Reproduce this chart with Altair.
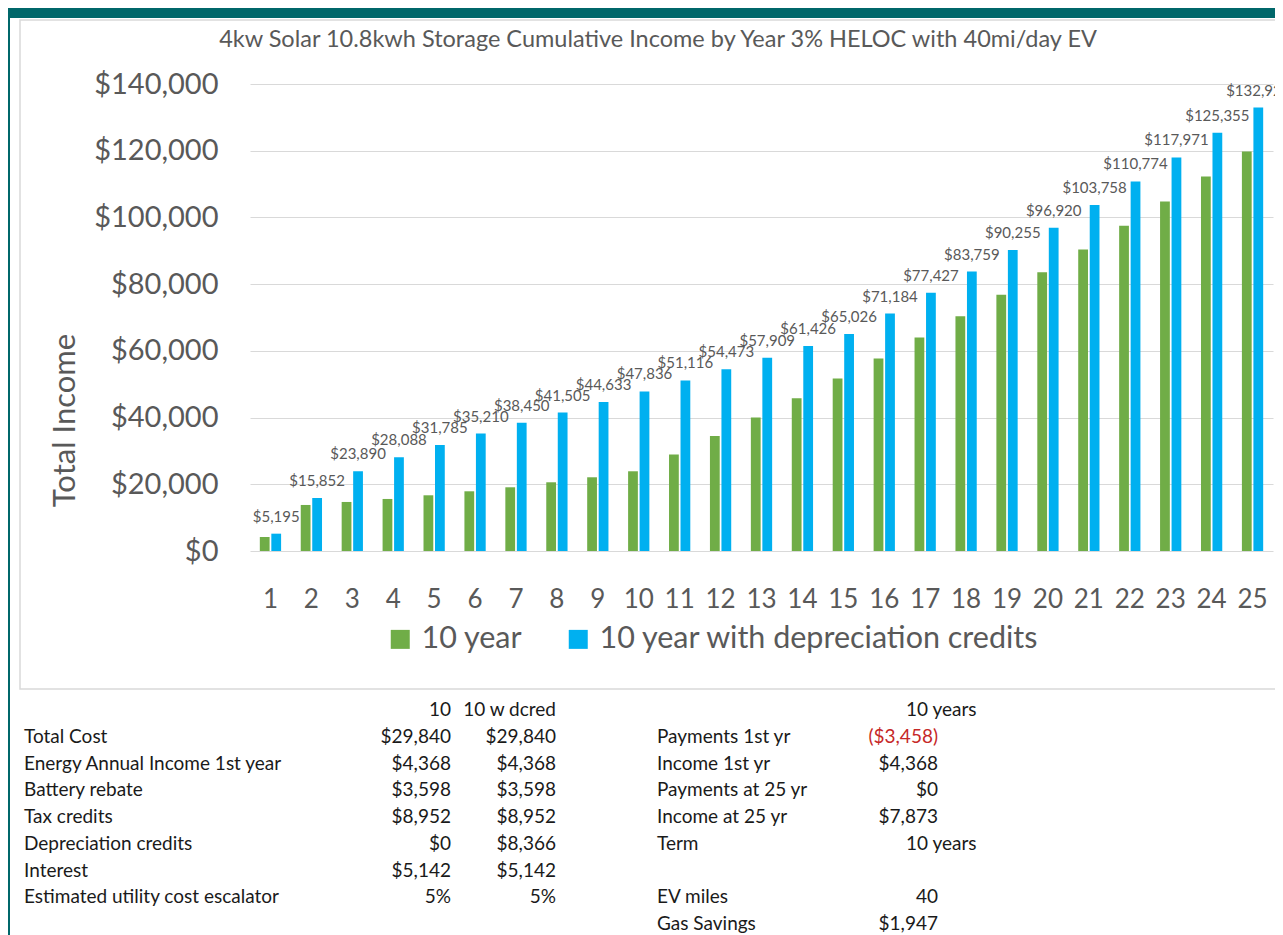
import altair as alt
import pandas as pd

# ---------------- data ----------------
years = list(range(1, 26))
ten_year = [4200, 13800, 14700, 15600, 16700, 17900, 19100, 20600, 22100, 23900,
            28900, 34500, 40000, 45800, 51700, 57700, 64000, 70400, 76800, 83600,
            90400, 97500, 104800, 112300, 119800]
ten_year_dep = [5195, 15852, 23890, 28088, 31785, 35210, 38450, 41505, 44633, 47836,
                51116, 54473, 57909, 61426, 65026, 71184, 77427, 83759, 90255, 96920,
                103758, 110774, 117971, 125355, 132929]
series_names = ["10 year", "10 year with depreciation credits"]
series_colors = ["#70ad47", "#00b0f0"]
y_ticks = [0, 20000, 40000, 60000, 80000, 100000, 120000, 140000]

title_text = "4kw Solar 10.8kwh Storage Cumulative Income by Year 3% HELOC with 40mi/day EV"
y_title = "Total Income"

left_headers = ["10", "10 w dcred"]
left_labels = ["Total Cost", "Energy Annual Income 1st year", "Battery rebate", "Tax credits",
               "Depreciation credits", "Interest", "Estimated utility cost escalator"]
left_col1 = ["$29,840", "$4,368", "$3,598", "$8,952", "$0", "$5,142", "5%"]
left_col2 = ["$29,840", "$4,368", "$3,598", "$8,952", "$8,366", "$5,142", "5%"]

right_header = "10 years"
right_labels = ["Payments 1st yr", "Income 1st yr", "Payments at 25 yr", "Income at 25 yr",
                "Term", "", "EV miles", "Gas Savings"]
right_values = ["($3,458)", "$4,368", "$0", "$7,873", "", "", "40", "$1,947"]
right_units = ["", "", "", "", "10 years", "", "", ""]

# ---------------- styling constants ----------------
FONT = "Lato"
GRAY = "#595959"
TEAL = "#00676a"
RED = "#c62828"
INK = "#1a1a1a"
W, H = 1023, 467
PAD = {"left": 242, "top": 76, "right": 2, "bottom": 384}

# ---------------- frames ----------------
df_bars = pd.DataFrame({
    "year": years * 2,
    "value": ten_year + ten_year_dep,
    "series": [series_names[0]] * len(years) + [series_names[1]] * len(years),
})
df_dep = pd.DataFrame({"year": years, "value": ten_year_dep, "series": series_names[1]})

x_enc = alt.X("year:O",
              scale=alt.Scale(paddingInner=0.48, paddingOuter=0.24),
              axis=alt.Axis(title=None, labelAngle=0, ticks=False, domain=False, grid=False,
                            labelFont=FONT, labelFontSize=26, labelColor=GRAY, labelPadding=35))
xo_enc = alt.XOffset("series:N", scale=alt.Scale(domain=series_names, paddingInner=0.15, paddingOuter=0))
y_enc = alt.Y("value:Q",
              scale=alt.Scale(domain=[0, 140000], nice=False, zero=True),
              axis=alt.Axis(values=y_ticks, format="$,.0f", ticks=False, domain=False,
                            grid=True, gridColor="#d9d9d9", gridWidth=1,
                            labelFont=FONT, labelFontSize=29, labelColor=GRAY, labelPadding=32,
                            title=y_title, titleFont=FONT, titleFontSize=31, titleFontWeight="normal",
                            titleColor=GRAY, titleX=-185, titleY=336, titleAngle=-90,
                            titleAlign="center", titleBaseline="middle"))

bars = alt.Chart(df_bars).mark_bar().encode(
    x=x_enc,
    xOffset=xo_enc,
    y=y_enc,
    color=alt.Color("series:N",
                    scale=alt.Scale(domain=series_names, range=series_colors),
                    legend=alt.Legend(title=None, orient="none", legendX=135, legendY=540,
                                      direction="horizontal", symbolType="square", symbolSize=361,
                                      symbolStrokeWidth=0, labelFont=FONT, labelFontSize=30.5,
                                      labelColor=GRAY, labelLimit=700, columnPadding=40,
                                      labelOffset=6, padding=0)),
)

labels = alt.Chart(df_dep).mark_text(font=FONT, fontSize=15, color=GRAY, baseline="middle", dy=-17).encode(
    x=x_enc,
    xOffset=xo_enc,
    y=y_enc,
    text=alt.Text("value:Q", format="$,.0f"),
)

chart_core = alt.layer(bars, labels)

# ---------------- decoration ----------------
one = pd.DataFrame({"a": [0]})
teal_top = alt.Chart(one).mark_rect(color=TEAL).encode(
    x=alt.value(-PAD["left"]), x2=alt.value(W + PAD["right"]), y=alt.value(-PAD["top"]), y2=alt.value(-66))
teal_left = alt.Chart(one).mark_rect(color=TEAL).encode(
    x=alt.value(-PAD["left"]), x2=alt.value(-PAD["left"] + 2), y=alt.value(-PAD["top"]), y2=alt.value(H + PAD["bottom"]))
box = alt.Chart(one).mark_rect(fillOpacity=0, stroke="#d9d9d9", strokeWidth=1.5).encode(
    x=alt.value(-230), x2=alt.value(W + 20), y=alt.value(-64), y2=alt.value(605))
title = alt.Chart(pd.DataFrame({"t": [title_text]})).mark_text(
    font=FONT, fontSize=23.5, color=GRAY, align="center", baseline="middle").encode(
    text="t:N", x=alt.value(408), y=alt.value(-44))

# ---------------- table ----------------
row_scale = alt.Scale(domain=[0, 8], range=[626, 840])
def row_y():
    return alt.Y("row:Q", scale=row_scale, axis=None)

TFS = 19

def text_layer(texts, rows, xpos, align, color=INK):
    df = pd.DataFrame({"row": rows, "txt": texts})
    df = df[df["txt"] != ""]
    return alt.Chart(df).mark_text(font=FONT, fontSize=TFS, color=color, align=align, baseline="middle").encode(
        x=alt.value(xpos), y=row_y(), text="txt:N")

rows_left = list(range(1, 1 + len(left_labels)))
rows_right = list(range(1, 1 + len(right_labels)))

t_left_lab = text_layer(left_labels, rows_left, 24 - 250, "left")
t_c1 = text_layer([left_headers[0]] + left_col1, [0] + rows_left, 451 - 250, "right")
t_c2 = text_layer([left_headers[1]] + left_col2, [0] + rows_left, 556 - 250, "right")
t_right_lab = text_layer(right_labels, rows_right, 657 - 250, "left")

df_rv = pd.DataFrame({"row": rows_right, "txt": right_values})
df_rv = df_rv[df_rv["txt"] != ""]
df_rv["neg"] = df_rv["txt"].str.startswith("(")
t_right_val = alt.Chart(df_rv).mark_text(font=FONT, fontSize=TFS, align="right", baseline="middle").encode(
    x=alt.value(938 - 250), y=row_y(), text="txt:N",
    color=alt.condition("datum.neg", alt.value(RED), alt.value(INK)))
t_units = text_layer([right_header] + right_units, [0] + rows_right, 906 - 250, "left")

chart = alt.layer(
    teal_top, teal_left, box, title, chart_core,
    t_left_lab, t_c1, t_c2, t_right_lab, t_right_val, t_units,
).resolve_scale(y="independent").properties(
    width=W, height=H, padding=PAD, autosize=alt.AutoSizeParams(type="none"),
    background="white",
).configure_view(stroke=None)

chart.save("out.html", embed_options={"renderer": "svg", "actions": False})
